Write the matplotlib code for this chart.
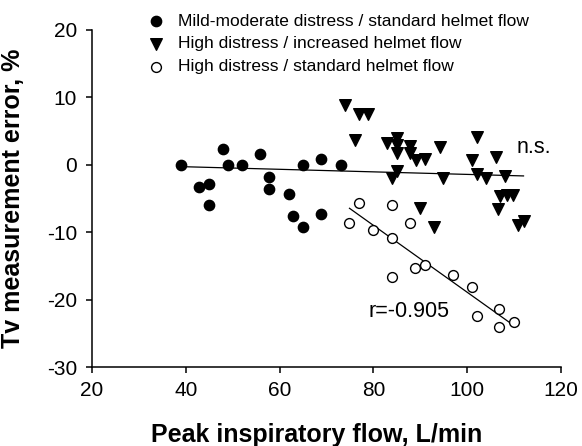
import numpy as np
import matplotlib
matplotlib.use("Agg")
import matplotlib.pyplot as plt

plt.rcParams["font.family"] = ["Liberation Sans", "DejaVu Sans"]
plt.rcParams["axes.unicode_minus"] = False

# ---------------------------------------------------------
# data
# ---------------------------------------------------------

mild_x = [39, 42.8, 45, 45, 47.9, 48.9, 52, 55.9, 57.8, 57.8,
          61.9, 62.9, 64.9, 64.9, 68.9, 68.9, 73]
mild_y = [0, -3.3, -2.8, -6.0, 2.3, 0, 0, 1.6, -1.8, -3.6,
          -4.3, -7.6, 0, -9.3, 0.9, -7.3, 0]

incr_x = [73.9, 77, 78.9, 76.1, 83, 85, 85, 85, 87.9, 87.9,
          89.1, 91, 94.1, 85, 83.9, 94.9, 102, 101, 102, 104,
          106.1, 108, 107, 108.4, 109.8, 106.6, 89.9, 92.9, 110.9, 112]
incr_y = [8.8, 7.6, 7.6, 3.7, 3.2, 4.0, 2.9, 1.8, 2.8, 1.7,
          0.7, 0.8, 2.6, -0.9, -2.0, -1.9, 4.1, 0.7, -1.3, -1.9,
          1.2, -1.7, -4.7, -4.5, -4.5, -6.5, -6.4, -9.3, -8.9, -8.3]

std_x = [76.9, 84, 74.9, 80, 84, 87.9, 88.9, 91, 84, 96.9,
         101, 102, 106.8, 106.8, 110]
std_y = [-5.6, -5.9, -8.7, -9.7, -10.8, -8.6, -15.3, -14.9, -16.6, -16.3,
         -18.2, -22.4, -21.4, -24.0, -23.3]

labels = ["Mild-moderate distress / standard helmet flow",
          "High distress / increased helmet flow",
          "High distress / standard helmet flow"]

x_ticks = [20, 40, 60, 80, 100, 120]
y_ticks = [-30, -20, -10, 0, 10, 20]


def fit_line(x, y):
    k, b = np.polyfit(x, y, 1)
    xs = np.array([min(x), max(x)])
    return xs, k * xs + b


fig = plt.figure(figsize=(5.82, 4.46), dpi=100)
ax = fig.add_axes([0.158, 0.177, 0.806, 0.756])

# regression lines
ns_x = mild_x + incr_x
ns_y = mild_y + incr_y
lx, ly = fit_line(ns_x, ns_y)
ax.plot(lx, ly, color="black", lw=0.9, zorder=1)

lx, ly = fit_line(std_x, std_y)
ax.plot(lx, ly, color="black", lw=0.9, zorder=1)

# points
h1 = ax.scatter(mild_x, mild_y, s=55, marker="o", color="black", zorder=3)
h2 = ax.scatter(incr_x, incr_y, s=70, marker="v", color="black", zorder=3)
h3 = ax.scatter(std_x, std_y, s=50, marker="o", facecolor="white",
                edgecolor="black", linewidths=1.0, zorder=3)

ax.text(110.6, 2.6, "n.s.", fontsize=15.5, va="center", ha="left")
ax.text(79.0, -21.8, "r=-0.905", fontsize=15.5, va="center", ha="left")

ax.set_xlim(20, 120)
ax.set_ylim(-30, 20)
ax.set_xticks(x_ticks)
ax.set_yticks(y_ticks)
ax.tick_params(labelsize=15, length=4.3, width=1.1, direction="out")
ax.tick_params(axis="y", pad=6.5)
ax.tick_params(axis="x", pad=6)

for side in ["top", "right"]:
    ax.spines[side].set_visible(False)
for side in ["left", "bottom"]:
    ax.spines[side].set_linewidth(1.1)

ax.set_xlabel("Peak inspiratory flow, L/min", fontsize=18, fontweight="bold")
ax.set_ylabel("Tv measurement error, %", fontsize=18, fontweight="bold")
ax.xaxis.set_label_coords(0.478, -0.166)
ax.yaxis.set_label_coords(-0.143, 0.5)

fig.legend([h1, h2, h3], labels, loc="upper left",
           bbox_to_anchor=(0.232, 0.997), frameon=False, fontsize=12.5,
           handletextpad=0.75, labelspacing=0.44, handlelength=1.0,
           borderpad=0.2, markerscale=1.0)

plt.savefig("out.png", dpi=100)
